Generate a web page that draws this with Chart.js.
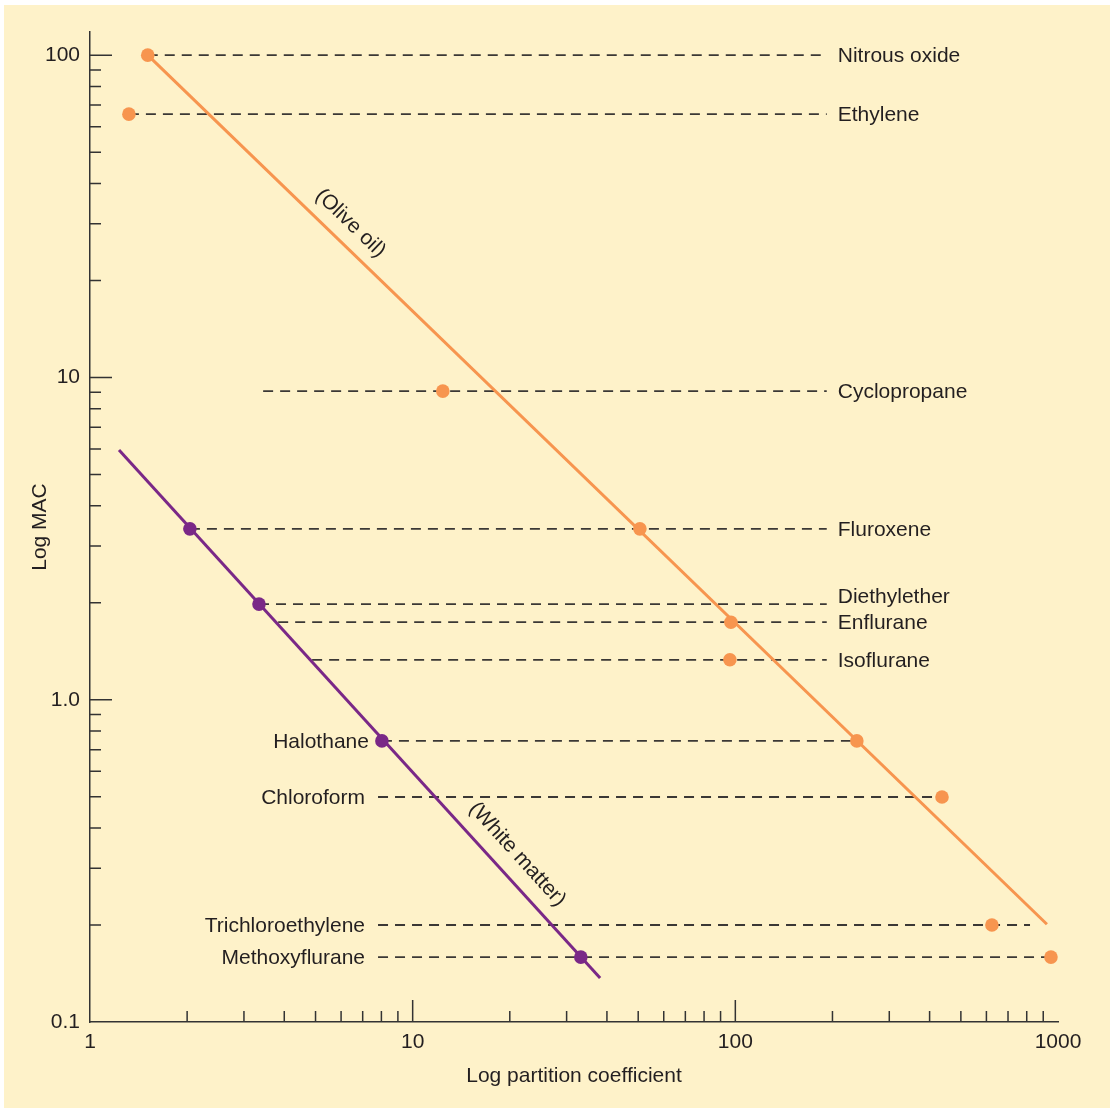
<!DOCTYPE html>
<html>
<head>
<meta charset="utf-8">
<title>Log MAC vs log partition coefficient</title>
<script src="https://cdn.jsdelivr.net/npm/chart.js@4.4.0/dist/chart.umd.min.js"></script>
<style>
  html, body { margin: 0; padding: 0; background: #fff; }
</style>
</head>
<body>
<canvas id="myChart" width="1110" height="1108"></canvas>
<script>
// --- data ---
const drugs = ['Nitrous oxide', 'Ethylene', 'Cyclopropane', 'Fluroxene', 'Diethylether',
  'Enflurane', 'Isoflurane', 'Halothane', 'Chloroform', 'Trichloroethylene', 'Methoxyflurane'];
const mac = [100, 65.6, 9.07, 3.39, 1.98, 1.74, 1.33, 0.745, 0.499, 0.200, 0.159];
// olive oil partition coefficient (orange dots), null = no dot
const oilCoef = [1.51, 1.32, 12.4, 50.6, null, 96.9, 96.2, 238, 437, 624, 951];
// white matter (purple dots)
const whiteCoef = [null, null, null, 2.04, 3.34, null, null, 8.03, null, null, 33.2];
// dashed guide lines: start / end on the x axis
const dashStart = [1.51, 1.32, 3.44, 2.04, 3.34, 3.83, 4.88, 8.03, 7.81, 7.81, 7.81];
const dashEnd = [192, 192, 192, 192, 192, 192, 192, 238, 437, 819, 951];
const labelSide = ['r', 'r', 'r', 'r', 'r', 'r', 'r', 'l', 'l', 'l', 'l'];

// regression lines
const oilLine = [{ x: 1.51, y: 100 }, { x: 924, y: 0.201 }];
const whiteLine = [{ x: 1.23, y: 5.95 }, { x: 38.1, y: 0.137 }];

// axes
const xTicks = [1, 10, 100, 1000];
const xTickLabels = ['1', '10', '100', '1000'];
const yTicks = [0.1, 1, 10, 100];
const yTickLabels = ['0.1', '1.0', '10', '100'];
const xMajor = [10, 100];
const xMinor = [2, 3, 4, 5, 6, 7, 8, 9, 20, 30, 40, 50, 60, 70, 80, 90, 200, 300, 400, 500, 600, 700, 800, 900];
const yMajor = [1, 10, 100];
const yMinor = [0.2, 0.3, 0.4, 0.5, 0.6, 0.7, 0.8, 0.9, 2, 3, 4, 5, 6, 7, 8, 9, 20, 30, 40, 50, 60, 70, 80, 90];

const ORANGE = '#f7954f';
const PURPLE = '#7a2887';
const DASH = '#3b3835';
const INK = '#231f20';
const FONT = '"Liberation Sans", Arial, Helvetica, sans-serif';

Chart.defaults.font.family = FONT;
Chart.defaults.color = INK;

// points
const oilPts = [];
const whitePts = [];
drugs.forEach((d, i) => {
  if (oilCoef[i] != null) oilPts.push({ x: oilCoef[i], y: mac[i] });
  if (whiteCoef[i] != null) whitePts.push({ x: whiteCoef[i], y: mac[i] });
});

// dashed lines, one dataset each
const dashSets = drugs.map((d, i) => ({
  type: 'line',
  label: d,
  data: [{ x: dashStart[i], y: mac[i] }, { x: dashEnd[i], y: mac[i] }],
  borderColor: DASH,
  borderWidth: 1.8,
  borderDash: [10, 7],
  pointRadius: 0,
  showLine: true,
  order: 3
}));

// background
const bgPlugin = {
  id: 'bg',
  beforeDraw(chart) {
    const c = chart.ctx;
    c.save();
    c.fillStyle = '#fef2c9';
    c.fillRect(4, 5, chart.width - 4, chart.height - 5);
    c.restore();
  }
};

// inward tick marks
const tickPlugin = {
  id: 'inTicks',
  afterDraw(chart) {
    const { ctx, chartArea: a, scales: { x, y } } = chart;
    ctx.save();
    ctx.strokeStyle = '#333';
    ctx.lineWidth = 1.5;
    ctx.beginPath();
    xMinor.forEach(v => { const p = x.getPixelForValue(v); ctx.moveTo(p, a.bottom); ctx.lineTo(p, a.bottom - 11); });
    xMajor.forEach(v => { const p = x.getPixelForValue(v); ctx.moveTo(p, a.bottom); ctx.lineTo(p, a.bottom - 22); });
    yMinor.forEach(v => { const p = y.getPixelForValue(v); ctx.moveTo(a.left, p); ctx.lineTo(a.left + 11, p); });
    yMajor.forEach(v => { const p = y.getPixelForValue(v); ctx.moveTo(a.left, p); ctx.lineTo(a.left + 22, p); });
    ctx.stroke();
    ctx.restore();
  }
};

// drug names and line captions
const labelPlugin = {
  id: 'names',
  afterDatasetsDraw(chart) {
    const { ctx, scales: { x, y } } = chart;
    ctx.save();
    ctx.font = '21px ' + FONT;
    ctx.fillStyle = INK;
    ctx.textBaseline = 'middle';
    drugs.forEach((d, i) => {
      let py = y.getPixelForValue(mac[i]) + 1.5;
      if (d == 'Diethylether') py -= 8; // pushed up so it doesn't hit Enflurane
      if (labelSide[i] == 'r') {
        ctx.textAlign = 'left';
        ctx.fillText(d, x.getPixelForValue(dashEnd[i]) + 11, py);
      } else {
        ctx.textAlign = 'right';
        ctx.fillText(d, x.getPixelForValue(dashStart[i]) - 13, py);
      }
    });
    // text along the lines
    const along = (line, text, t, off) => {
      const x0 = x.getPixelForValue(line[0].x), y0 = y.getPixelForValue(line[0].y);
      const x1 = x.getPixelForValue(line[1].x), y1 = y.getPixelForValue(line[1].y);
      const ang = Math.atan2(y1 - y0, x1 - x0);
      const cx = x0 + (x1 - x0) * t + Math.sin(ang) * off;
      const cy = y0 + (y1 - y0) * t - Math.cos(ang) * off;
      ctx.save();
      ctx.translate(cx, cy);
      ctx.rotate(ang);
      ctx.textAlign = 'center';
      ctx.fillText(text, 0, 0);
      ctx.restore();
    };
    along(oilLine, '(Olive oil)', 0.21, 20);
    along(whiteLine, '(White matter)', 0.794, 22);
    ctx.restore();
  }
};

const ctx = document.getElementById('myChart');
new Chart(ctx, {
  type: 'scatter',
  data: {
    datasets: [
      { label: 'Olive oil', data: oilPts, backgroundColor: ORANGE, borderColor: ORANGE, pointRadius: 6.8, pointBorderWidth: 0, order: 1 },
      { label: 'White matter', data: whitePts, backgroundColor: PURPLE, borderColor: PURPLE, pointRadius: 6.8, pointBorderWidth: 0, order: 1 },
      { type: 'line', label: 'oil fit', data: oilLine, borderColor: ORANGE, borderWidth: 3, pointRadius: 0, showLine: true, order: 2 },
      { type: 'line', label: 'white fit', data: whiteLine, borderColor: PURPLE, borderWidth: 3, pointRadius: 0, showLine: true, order: 2 },
      ...dashSets
    ]
  },
  options: {
    responsive: false,
    animation: false,
    layout: { padding: { left: 0, top: 32, right: 52, bottom: 0 } },
    plugins: { legend: { display: false }, tooltip: { enabled: false } },
    scales: {
      x: {
        type: 'logarithmic',
        min: 1,
        max: 1000,
        afterFit(s) { s.height = 86; },
        afterBuildTicks(s) { s.ticks = xTicks.map(v => ({ value: v })); },
        ticks: {
          autoSkip: false, maxRotation: 0, padding: 8, color: INK,
          font: { size: 21 },
          callback: (v, i) => xTickLabels[i]
        },
        grid: { display: false, drawTicks: false },
        border: { display: true, color: '#333', width: 1.5 },
        title: { display: true, text: 'Log partition coefficient', color: INK, font: { size: 21 }, padding: { top: 0, bottom: 19 } }
      },
      y: {
        type: 'logarithmic',
        min: 0.1,
        max: 118,
        afterFit(s) { s.width = 90; },
        afterBuildTicks(s) { s.ticks = yTicks.map(v => ({ value: v })); },
        ticks: {
          autoSkip: false, padding: 10, color: INK,
          font: { size: 21 },
          callback: (v, i) => yTickLabels[i]
        },
        grid: { display: false, drawTicks: false },
        border: { display: true, color: '#333', width: 1.5 },
        title: { display: true, text: 'Log MAC', color: INK, font: { size: 21 }, padding: { top: 28, bottom: 0 } }
      }
    }
  },
  plugins: [bgPlugin, tickPlugin, labelPlugin]
});
</script>
</body>
</html>
